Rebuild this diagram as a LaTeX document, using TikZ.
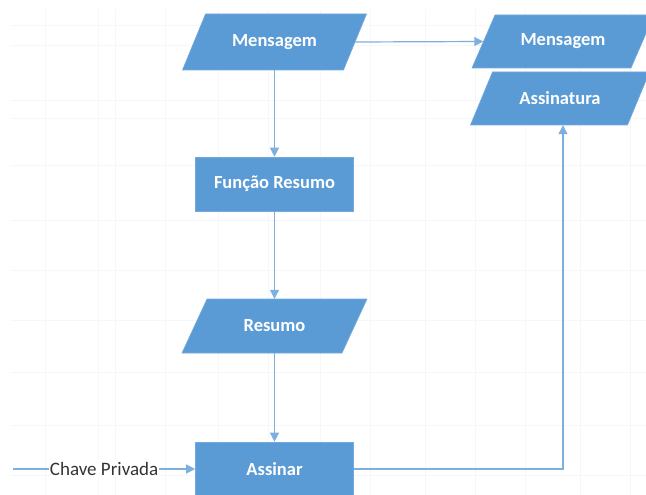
\documentclass[tikz,border=0pt]{standalone}
\usepackage{fontspec}
\setmainfont{Carlito}
\usetikzlibrary{arrows.meta}
\definecolor{boxblue}{HTML}{5B9BD5}
\definecolor{lineblue}{HTML}{7EB0DF}
\definecolor{gridc}{HTML}{F7F7F7}
% name, cx, cy, bottom width, height, slant, text
\newcommand\mkpara[7]{%
  \filldraw[boxblue, draw=boxblue!85!white, line width=0.6pt]
    ({#2-#4/2-#6/2},{#3+#5/2}) -- ++(#4,0) -- ++(#6,-#5) -- ++(-#4,0) -- cycle;
  \node[rectangle, minimum width=#4pt, minimum height=#5pt, inner sep=0pt, lbl] (#1) at (#2,#3) {#7};
}
\begin{document}
\begin{tikzpicture}[x=1pt,y=-1pt,
  lbl/.style={font=\fontsize{18.5}{21}\selectfont\bfseries, text=white},
  procbox/.style={rectangle, fill=boxblue, draw=boxblue!85!white, line width=0.6pt,
     minimum width=158pt, minimum height=54pt, inner sep=0pt, lbl},
  conn/.style={draw=lineblue, line width=1.2pt, -{Triangle[length=9pt,width=9pt]}}
]
\useasboundingbox (0,0) rectangle (646,495);
\fill[white] (0,0) rectangle (646,495);
% faint grid
\foreach \gx in {45,98,115,165,218,268,320,370,425,475,525,580,630}
  \draw[gridc, line width=0.6pt] (\gx,10) -- (\gx,495);
\foreach \gy in {25,45,100,118,165,220,270,320,372,425,475}
  \draw[gridc, line width=0.6pt] (10,\gy) -- (646,\gy);

\mkpara{msg}{274.5}{42}{161}{56}{23}{Mensagem}
\node[procbox] (fun) at (274.5,184) {Função Resumo};
\mkpara{res}{274.5}{326}{160}{54}{25}{Resumo}
\node[procbox] (sig) at (274.5,469) {Assinar};
\mkpara{omsg}{563}{41.5}{159}{53}{23}{Mensagem}
\mkpara{oass}{560}{98.5}{157}{53}{22}{Assinatura}

\coordinate (start) at (13,469);
\coordinate (bend) at (563,469);

\draw[conn] (msg.east) -- (omsg.west);
\draw[conn] (msg) -- (fun);
\draw[conn] (fun) -- (res);
\draw[conn] (res) -- (sig);
\draw[conn] (sig.east) -- (bend) -- (bend |- oass.south);
\draw[conn] (start) -- node[fill=white, inner sep=1pt, font=\fontsize{19}{22}\selectfont, text=black!80] {Chave Privada} (sig.west);
\end{tikzpicture}
\end{document}
